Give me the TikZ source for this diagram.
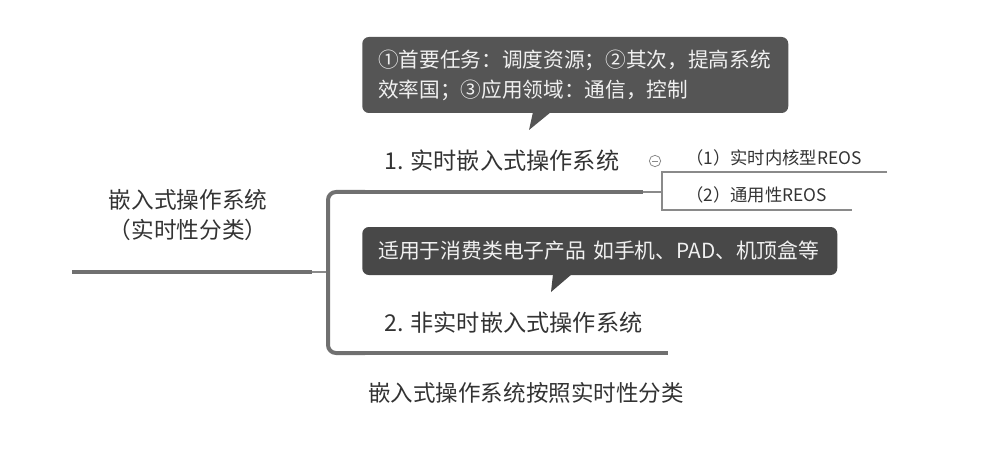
\documentclass[tikz,border=0pt]{standalone}
\usepackage{fontspec}
\setmainfont{Noto Sans CJK SC}
\definecolor{linegray}{HTML}{707070}
\definecolor{thingray}{HTML}{8A8A8A}
\definecolor{boxgray}{HTML}{555555}
\definecolor{boxgrayb}{HTML}{484848}
\definecolor{textdark}{HTML}{333333}
\definecolor{boxtext}{HTML}{F0F0F0}
\begin{document}
\begin{tikzpicture}[x=0.75pt,y=-0.75pt,
  thickline/.style={line width=3.6pt,draw=linegray},
  thinline/.style={line width=0.8pt,draw=thingray},
  bracketline/.style={line width=3pt,draw=linegray,rounded corners=6pt},
  lbl/.style={inner sep=0pt,text=textdark,anchor=west},
  callout/.style={fill=#1,rounded corners=5pt,text=boxtext,align=left,inner xsep=12pt,inner ysep=0pt,anchor=west},
]
\useasboundingbox (0,0) rectangle (987,452);
% root
\node[inner sep=0pt,text=textdark,align=center,font=\fontsize{17pt}{22.5pt}\selectfont] (root) at (188,215) {嵌入式操作系统\\（实时性分类）};
\coordinate (r0) at (72,272);
\coordinate (r1) at (312,272);
\coordinate (r2) at (328,272);
\draw[thickline] (r0) -- (r1);
\draw[thinline] (r1) -- (r2);
% bracket
\coordinate (b1a) at (365,192);
\coordinate (b2a) at (365,353);
\draw[bracketline] (b1a) -- (328,192) -- (328,353) -- (b2a);
% branch 1
\coordinate (b1b) at (643,192);
\coordinate (b1c) at (662,192);
\draw[thickline] (b1a) -- (b1b);
\draw[thinline] (b1b) -- (b1c);
\node[lbl,font=\fontsize{17.4pt}{20pt}\selectfont] (n1) at (384,161) {1. 实时嵌入式操作系统};
\node[circle,draw=thingray,line width=0.6pt,minimum size=8.5pt,inner sep=0pt] (col) at (655,161) {};
\draw[thingray,line width=0.6pt] ([xshift=-2pt]col.center) -- ([xshift=2pt]col.center);
% child bracket
\coordinate (c1a) at (887,172);
\coordinate (c2a) at (852,210);
\draw[thinline] (c1a) -- (662,172) -- (662,210) -- (c2a);
\node[lbl,font=\fontsize{13pt}{14pt}\selectfont] (k1) at (686,158) {（1）实时内核型REOS};
\node[lbl,font=\fontsize{13pt}{14pt}\selectfont] (k2) at (686,195) {（2）通用性REOS};
% callout 1
\node[callout=boxgray,text width=295.5pt,minimum height=57pt,font=\fontsize{15.5pt}{22.5pt}\selectfont] (co1) at (362,75) {①首要任务：调度资源；②其次，提高系统\\效率国；③应用领域：通信，控制};
\fill[boxgray] (533,112) -- (551,112) -- (529,130) -- cycle;
% branch 2
\coordinate (b2b) at (668,353);
\draw[thickline] (b2a) -- (b2b);
\node[lbl,font=\fontsize{17.4pt}{20pt}\selectfont] (n2) at (384,323) {2. 非实时嵌入式操作系统};
% callout 2
\node[callout=boxgrayb,text width=332.25pt,minimum height=36pt,font=\fontsize{15.6pt}{18pt}\selectfont] (co2) at (362,251) {适用于消费类电子产品 如手机、PAD、机顶盒等};
\fill[boxgrayb] (553,274) -- (572,274) -- (551,292) -- cycle;
% caption
\node[lbl,font=\fontsize{16.9pt}{18pt}\selectfont] (cap) at (368,393) {嵌入式操作系统按照实时性分类};
\end{tikzpicture}
\end{document}
